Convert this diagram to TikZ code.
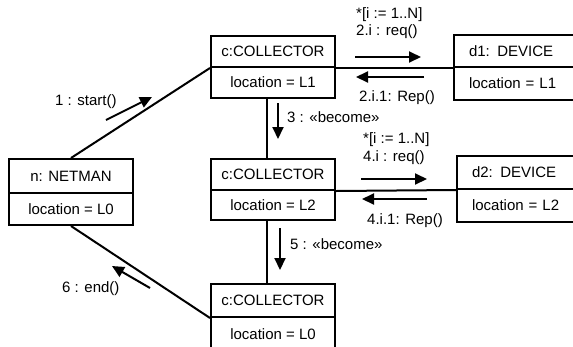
\documentclass[tikz,border=0pt]{standalone}
\usepackage{fontspec}
\setmainfont{Liberation Sans}
\usetikzlibrary{arrows.meta}
\begin{document}
\begin{tikzpicture}[x=1pt,y=-1pt,
  box/.style={draw,line width=2pt,inner sep=0pt,anchor=north west,font=\fontsize{15}{17}\selectfont},
  lbl/.style={inner sep=0pt,font=\fontsize{15}{17}\selectfont},
  link/.style={line width=2pt},
  msg/.style={line width=2pt,-{Triangle[length=12pt,width=11pt]}}]
\useasboundingbox (0,0) rectangle (573,346);
\clip (0,0) rectangle (573,346);
% NETMAN
\node[box,minimum width=124pt,minimum height=34pt] (nh) at (8,158) {n: NETMAN};
\node[box,minimum width=124pt,minimum height=32pt] (nb) at (8,192) {location = L0};
% Collector 1
\node[box,minimum width=124pt,minimum height=31pt] (c1h) at (210,35) {c:COLLECTOR};
\node[box,minimum width=124pt,minimum height=31pt] (c1b) at (210,66) {location = L1};
% Collector 2
\node[box,minimum width=124pt,minimum height=31pt] (c2h) at (210,158) {c:COLLECTOR};
\node[box,minimum width=124pt,minimum height=30pt] (c2b) at (210,189) {location = L2};
% Collector 3
\node[box,minimum width=124pt,minimum height=33pt] (c3h) at (210,283) {c:COLLECTOR};
\node[box,minimum width=124pt,minimum height=34pt] (c3b) at (210,316) {location = L0};
% Device 1
\node[box,minimum width=140pt,minimum height=32pt,text width=110pt,inner xsep=15pt,align=left] (d1h) at (453,34) {d1: DEVICE};
\node[box,minimum width=140pt,minimum height=33pt,text width=110pt,inner xsep=15pt,align=left] (d1b) at (453,66) {location = L1};
% Device 2
\node[box,minimum width=140pt,minimum height=33pt,text width=110pt,inner xsep=15pt,align=left] (d2h) at (456,155) {d2: DEVICE};
\node[box,minimum width=140pt,minimum height=33pt,text width=110pt,inner xsep=15pt,align=left] (d2b) at (456,188) {location = L2};
% links
\draw[link] (nh.north) -- (c1h.south west);
\draw[link] (nb.south) -- (c3h.south west);
\draw[link] (c1h.south east) -- (d1h.south west);
\draw[link] (c2h.south east) -- (d2h.south west);
\draw[link] ([xshift=-6pt]c1b.south) -- ([xshift=-6pt]c2h.north);
\draw[link] ([xshift=-6pt]c2b.south) -- ([xshift=-6pt]c3h.north);
% message arrows
\coordinate (s1a) at (106,120); \coordinate (s1b) at (152,97);
\coordinate (q1a) at (355,57);  \coordinate (q1b) at (421,57);
\coordinate (r1a) at (424,77);  \coordinate (r1b) at (356,77);
\coordinate (b3a) at (278,103); \coordinate (b3b) at (278,139);
\coordinate (q2a) at (361,179); \coordinate (q2b) at (427,179);
\coordinate (r2a) at (427,199); \coordinate (r2b) at (362,199);
\coordinate (b5a) at (280,228); \coordinate (b5b) at (280,270);
\coordinate (e6a) at (150,288); \coordinate (e6b) at (112,266);
\draw[msg] (s1a) -- (s1b);
\draw[msg] (q1a) -- (q1b);
\draw[msg] (r1a) -- (r1b);
\draw[msg] (b3a) -- (b3b);
\draw[msg] (q2a) -- (q2b);
\draw[msg] (r2a) -- (r2b);
\draw[msg] (b5a) -- (b5b);
\draw[msg] (e6a) -- (e6b);
% labels
\node[lbl,anchor=west] (l1) at (55,102) {1 : start()};
\node[lbl,anchor=west] (l2a) at (356,15) {*[i := 1..N]};
\node[lbl,anchor=west] (l2b) at (356,32) {2.i : req()};
\node[lbl,anchor=west] (l2c) at (359,98) {2.i.1: Rep()};
\node[lbl,anchor=west] (l3) at (287,117) {3 : «become»};
\node[lbl,anchor=west] (l4a) at (363,140) {*[i := 1..N]};
\node[lbl,anchor=west] (l4b) at (363,158) {4.i : req()};
\node[lbl,anchor=west] (l4c) at (367,221) {4.i.1: Rep()};
\node[lbl,anchor=west] (l5) at (290,244) {5 : «become»};
\node[lbl,anchor=west] (l6) at (62,289) {6 : end()};
\end{tikzpicture}
\end{document}
